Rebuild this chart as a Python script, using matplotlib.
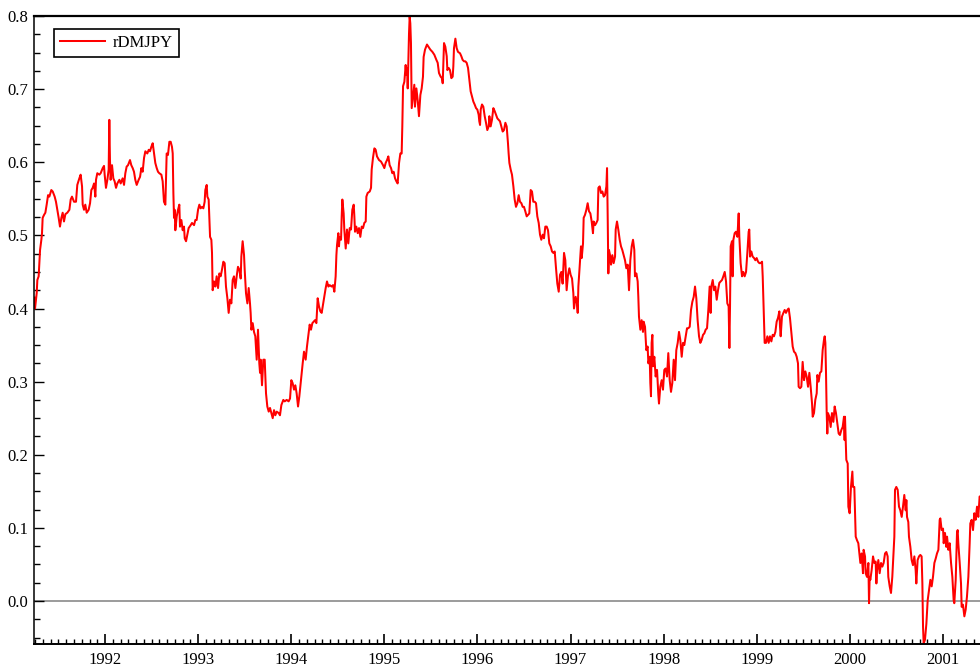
import numpy as np
import matplotlib
matplotlib.use("Agg")
import matplotlib.pyplot as plt
from matplotlib.ticker import MultipleLocator, FormatStrFormatter

plt.rcParams["font.family"] = ["Liberation Serif", "DejaVu Serif"]

# rDMJPY, (decimal year, value) pairs read in chunks
pts_1991 = [
    (1991.240, 0.415), (1991.248, 0.400), (1991.266, 0.421), (1991.273, 0.439), (1991.287, 0.444),
    (1991.295, 0.462), (1991.302, 0.480), (1991.316, 0.494), (1991.323, 0.503), (1991.330, 0.524),
    (1991.345, 0.528), (1991.359, 0.531), (1991.373, 0.542), (1991.388, 0.555), (1991.402, 0.553),
    (1991.423, 0.562), (1991.438, 0.560), (1991.459, 0.553), (1991.473, 0.546), (1991.488, 0.535),
    (1991.502, 0.524), (1991.516, 0.512), (1991.531, 0.524), (1991.545, 0.531), (1991.559, 0.519),
    (1991.574, 0.529), (1991.595, 0.531), (1991.617, 0.535), (1991.631, 0.549), (1991.645, 0.553),
    (1991.667, 0.546), (1991.688, 0.546), (1991.702, 0.569), (1991.724, 0.578), (1991.738, 0.583),
    (1991.753, 0.567), (1991.760, 0.542), (1991.774, 0.535), (1991.788, 0.542), (1991.803, 0.531),
    (1991.824, 0.535), (1991.839, 0.544), (1991.853, 0.562), (1991.867, 0.565), (1991.882, 0.571),
    (1991.896, 0.553), (1991.903, 0.576), (1991.917, 0.585), (1991.939, 0.583), (1991.953, 0.585),
    (1991.975, 0.592), (1991.989, 0.595), (1991.996, 0.583),
]
pts_1992 = [
    (1992.010, 0.565), (1992.025, 0.576), (1992.039, 0.590), (1992.046, 0.658), (1992.053, 0.603),
    (1992.060, 0.576), (1992.075, 0.596), (1992.089, 0.578), (1992.103, 0.574), (1992.118, 0.565),
    (1992.132, 0.571), (1992.154, 0.576), (1992.168, 0.571), (1992.189, 0.578), (1992.204, 0.569),
    (1992.218, 0.585), (1992.232, 0.594), (1992.247, 0.596), (1992.268, 0.603), (1992.282, 0.596),
    (1992.297, 0.592), (1992.311, 0.587), (1992.325, 0.576), (1992.340, 0.569), (1992.361, 0.576),
    (1992.376, 0.580), (1992.390, 0.592), (1992.404, 0.587), (1992.419, 0.606), (1992.433, 0.615),
    (1992.454, 0.612), (1992.469, 0.617), (1992.483, 0.615), (1992.497, 0.621), (1992.512, 0.626),
    (1992.526, 0.612), (1992.540, 0.599), (1992.555, 0.592), (1992.569, 0.587), (1992.583, 0.585),
    (1992.605, 0.583), (1992.619, 0.574), (1992.633, 0.546), (1992.648, 0.542), (1992.662, 0.612),
    (1992.676, 0.610), (1992.691, 0.628), (1992.705, 0.628), (1992.719, 0.621), (1992.727, 0.612),
    (1992.734, 0.558), (1992.741, 0.524), (1992.748, 0.535), (1992.755, 0.507), (1992.770, 0.526),
    (1992.784, 0.535), (1992.798, 0.542), (1992.805, 0.512), (1992.820, 0.521), (1992.834, 0.507),
    (1992.848, 0.512), (1992.856, 0.496), (1992.870, 0.492), (1992.884, 0.501), (1992.898, 0.510),
    (1992.920, 0.514), (1992.934, 0.517), (1992.956, 0.514), (1992.970, 0.521), (1992.984, 0.521),
    (1992.999, 0.535),
]
pts_1993 = [
    (1993.013, 0.542), (1993.027, 0.537), (1993.042, 0.539), (1993.056, 0.537), (1993.070, 0.546),
    (1993.077, 0.562), (1993.092, 0.569), (1993.099, 0.553), (1993.113, 0.549), (1993.120, 0.526),
    (1993.128, 0.498), (1993.142, 0.494), (1993.149, 0.476), (1993.156, 0.425), (1993.171, 0.437),
    (1993.185, 0.430), (1993.199, 0.444), (1993.214, 0.428), (1993.228, 0.448), (1993.242, 0.444),
    (1993.256, 0.453), (1993.271, 0.464), (1993.285, 0.462), (1993.299, 0.430), (1993.314, 0.414),
    (1993.328, 0.394), (1993.342, 0.412), (1993.357, 0.407), (1993.371, 0.439), (1993.385, 0.444),
    (1993.400, 0.428), (1993.414, 0.444), (1993.428, 0.457), (1993.443, 0.453), (1993.457, 0.441),
    (1993.464, 0.471), (1993.478, 0.492), (1993.493, 0.473), (1993.500, 0.453), (1993.514, 0.421),
    (1993.529, 0.407), (1993.543, 0.428), (1993.557, 0.407), (1993.564, 0.394), (1993.572, 0.371),
    (1993.586, 0.380), (1993.600, 0.368), (1993.614, 0.362), (1993.629, 0.330), (1993.643, 0.371),
    (1993.657, 0.325), (1993.665, 0.312), (1993.672, 0.330), (1993.686, 0.295), (1993.700, 0.330),
    (1993.715, 0.330), (1993.729, 0.284), (1993.743, 0.266), (1993.758, 0.259), (1993.772, 0.264),
    (1993.786, 0.257), (1993.801, 0.250), (1993.815, 0.261), (1993.829, 0.254), (1993.844, 0.259),
    (1993.865, 0.257), (1993.879, 0.254), (1993.894, 0.268), (1993.915, 0.275), (1993.930, 0.273),
    (1993.951, 0.275), (1993.972, 0.273), (1993.987, 0.277),
]
pts_1994 = [
    (1994.001, 0.302), (1994.015, 0.298), (1994.030, 0.289), (1994.044, 0.295), (1994.058, 0.284),
    (1994.073, 0.266), (1994.087, 0.280), (1994.101, 0.298), (1994.116, 0.316), (1994.123, 0.325),
    (1994.137, 0.341), (1994.155, 0.330), (1994.169, 0.348), (1994.184, 0.364), (1994.198, 0.378),
    (1994.212, 0.371), (1994.227, 0.380), (1994.241, 0.382), (1994.255, 0.384), (1994.270, 0.380),
    (1994.284, 0.414), (1994.298, 0.403), (1994.313, 0.396), (1994.327, 0.394), (1994.341, 0.405),
    (1994.356, 0.416), (1994.370, 0.428), (1994.384, 0.437), (1994.399, 0.430), (1994.413, 0.432),
    (1994.434, 0.430), (1994.449, 0.432), (1994.463, 0.423), (1994.477, 0.444), (1994.485, 0.473),
    (1994.492, 0.487), (1994.506, 0.503), (1994.513, 0.485), (1994.520, 0.498), (1994.535, 0.494),
    (1994.542, 0.526), (1994.549, 0.549), (1994.563, 0.530), (1994.570, 0.508), (1994.585, 0.482),
    (1994.599, 0.508), (1994.613, 0.489), (1994.628, 0.510), (1994.642, 0.508), (1994.656, 0.535),
    (1994.671, 0.542), (1994.678, 0.526), (1994.685, 0.505), (1994.699, 0.512), (1994.714, 0.503),
    (1994.728, 0.510), (1994.742, 0.498), (1994.757, 0.512), (1994.771, 0.510), (1994.785, 0.517),
    (1994.800, 0.519), (1994.807, 0.553), (1994.821, 0.558), (1994.843, 0.560), (1994.857, 0.565),
    (1994.864, 0.590), (1994.878, 0.606), (1994.893, 0.619), (1994.907, 0.617), (1994.921, 0.608),
    (1994.943, 0.603), (1994.964, 0.601), (1994.986, 0.596),
]
pts_1995 = [
    (1995.000, 0.592), (1995.014, 0.599), (1995.029, 0.603), (1995.043, 0.608), (1995.057, 0.596),
    (1995.072, 0.592), (1995.086, 0.585), (1995.100, 0.587), (1995.115, 0.578), (1995.129, 0.574),
    (1995.143, 0.571), (1995.158, 0.599), (1995.172, 0.612), (1995.186, 0.612), (1995.193, 0.649),
    (1995.201, 0.704), (1995.215, 0.710), (1995.229, 0.733), (1995.236, 0.720), (1995.244, 0.729),
    (1995.251, 0.701), (1995.265, 0.776), (1995.272, 0.799), (1995.279, 0.790), (1995.286, 0.763),
    (1995.294, 0.674), (1995.308, 0.690), (1995.322, 0.706), (1995.329, 0.676), (1995.344, 0.701),
    (1995.358, 0.685), (1995.372, 0.663), (1995.387, 0.692), (1995.401, 0.701), (1995.415, 0.717),
    (1995.422, 0.744), (1995.437, 0.754), (1995.458, 0.761), (1995.473, 0.758), (1995.494, 0.754),
    (1995.516, 0.751), (1995.537, 0.747), (1995.559, 0.740), (1995.573, 0.736), (1995.587, 0.722),
    (1995.605, 0.717), (1995.619, 0.715), (1995.627, 0.708), (1995.641, 0.763), (1995.655, 0.758),
    (1995.670, 0.745), (1995.677, 0.726), (1995.691, 0.729), (1995.705, 0.726), (1995.720, 0.715),
    (1995.734, 0.717), (1995.741, 0.731), (1995.748, 0.756), (1995.763, 0.769), (1995.777, 0.756),
    (1995.791, 0.751), (1995.813, 0.749), (1995.827, 0.745), (1995.841, 0.740), (1995.856, 0.738),
    (1995.870, 0.738), (1995.884, 0.736), (1995.899, 0.729), (1995.913, 0.713), (1995.927, 0.697),
    (1995.942, 0.690), (1995.956, 0.683), (1995.970, 0.679), (1995.985, 0.674), (1995.999, 0.672),
]
pts_1996 = [
    (1996.013, 0.665), (1996.020, 0.656), (1996.028, 0.651), (1996.035, 0.672), (1996.049, 0.679),
    (1996.063, 0.676), (1996.078, 0.663), (1996.092, 0.654), (1996.106, 0.644), (1996.121, 0.649),
    (1996.128, 0.663), (1996.142, 0.649), (1996.156, 0.658), (1996.171, 0.674), (1996.185, 0.670),
    (1996.199, 0.665), (1996.214, 0.660), (1996.228, 0.658), (1996.242, 0.656), (1996.257, 0.649),
    (1996.271, 0.642), (1996.285, 0.644), (1996.300, 0.654), (1996.314, 0.649), (1996.328, 0.626),
    (1996.335, 0.612), (1996.343, 0.599), (1996.357, 0.590), (1996.371, 0.583), (1996.386, 0.567),
    (1996.400, 0.549), (1996.414, 0.539), (1996.429, 0.544), (1996.443, 0.555), (1996.457, 0.546),
    (1996.472, 0.544), (1996.486, 0.539), (1996.500, 0.539), (1996.514, 0.533), (1996.529, 0.526),
    (1996.543, 0.528), (1996.557, 0.530), (1996.572, 0.562), (1996.586, 0.560), (1996.600, 0.546),
    (1996.615, 0.546), (1996.629, 0.544), (1996.643, 0.526), (1996.658, 0.517), (1996.672, 0.501),
    (1996.686, 0.494), (1996.701, 0.501), (1996.715, 0.496), (1996.729, 0.512), (1996.744, 0.512),
    (1996.758, 0.507), (1996.772, 0.489), (1996.787, 0.485), (1996.801, 0.478), (1996.815, 0.476),
    (1996.830, 0.478), (1996.844, 0.455), (1996.858, 0.434), (1996.873, 0.423), (1996.887, 0.446),
    (1996.901, 0.450), (1996.915, 0.434), (1996.930, 0.476), (1996.944, 0.466), (1996.958, 0.425),
    (1996.973, 0.446), (1996.987, 0.455),
]
pts_1997 = [
    (1997.001, 0.446), (1997.016, 0.441), (1997.030, 0.421), (1997.037, 0.400), (1997.055, 0.416),
    (1997.069, 0.407), (1997.077, 0.394), (1997.084, 0.430), (1997.098, 0.457), (1997.112, 0.485),
    (1997.120, 0.469), (1997.134, 0.489), (1997.141, 0.524), (1997.155, 0.528), (1997.170, 0.535),
    (1997.184, 0.544), (1997.198, 0.533), (1997.213, 0.530), (1997.227, 0.519), (1997.241, 0.503),
    (1997.248, 0.519), (1997.263, 0.514), (1997.277, 0.517), (1997.291, 0.521), (1997.299, 0.565),
    (1997.313, 0.567), (1997.327, 0.558), (1997.342, 0.560), (1997.356, 0.553), (1997.370, 0.555),
    (1997.385, 0.567), (1997.392, 0.592), (1997.399, 0.526), (1997.406, 0.448), (1997.413, 0.480),
    (1997.427, 0.471), (1997.435, 0.460), (1997.449, 0.473), (1997.463, 0.462), (1997.478, 0.471),
    (1997.485, 0.508), (1997.499, 0.519), (1997.513, 0.508), (1997.528, 0.494), (1997.542, 0.485),
    (1997.556, 0.480), (1997.571, 0.473), (1997.585, 0.466), (1997.599, 0.455), (1997.614, 0.460),
    (1997.628, 0.425), (1997.642, 0.466), (1997.657, 0.485), (1997.671, 0.494), (1997.685, 0.480),
    (1997.692, 0.444), (1997.707, 0.448), (1997.721, 0.437), (1997.728, 0.416), (1997.735, 0.389),
    (1997.750, 0.371), (1997.764, 0.384), (1997.778, 0.368), (1997.785, 0.382), (1997.800, 0.375),
    (1997.814, 0.343), (1997.828, 0.348), (1997.836, 0.325), (1997.850, 0.334), (1997.857, 0.298),
    (1997.864, 0.280), (1997.871, 0.353), (1997.879, 0.364), (1997.886, 0.321), (1997.900, 0.334),
    (1997.914, 0.307), (1997.929, 0.316), (1997.943, 0.282), (1997.950, 0.270), (1997.964, 0.293),
    (1997.979, 0.302), (1997.993, 0.289),
]
pts_1998 = [
    (1998.007, 0.316), (1998.022, 0.318), (1998.036, 0.307), (1998.050, 0.339), (1998.065, 0.302),
    (1998.079, 0.286), (1998.093, 0.298), (1998.108, 0.330), (1998.122, 0.302), (1998.136, 0.343),
    (1998.151, 0.353), (1998.165, 0.368), (1998.179, 0.357), (1998.194, 0.334), (1998.208, 0.353),
    (1998.222, 0.350), (1998.237, 0.362), (1998.251, 0.373), (1998.265, 0.373), (1998.280, 0.375),
    (1998.294, 0.398), (1998.308, 0.409), (1998.323, 0.416), (1998.337, 0.430), (1998.351, 0.414),
    (1998.365, 0.384), (1998.380, 0.362), (1998.394, 0.353), (1998.408, 0.357), (1998.423, 0.364),
    (1998.437, 0.366), (1998.451, 0.371), (1998.466, 0.373), (1998.480, 0.398), (1998.494, 0.430),
    (1998.505, 0.394), (1998.512, 0.430), (1998.527, 0.439), (1998.541, 0.425), (1998.555, 0.430),
    (1998.570, 0.412), (1998.584, 0.425), (1998.598, 0.435), (1998.613, 0.437), (1998.627, 0.439),
    (1998.641, 0.444), (1998.656, 0.450), (1998.670, 0.437), (1998.684, 0.407), (1998.698, 0.403),
    (1998.706, 0.346), (1998.713, 0.403), (1998.720, 0.485), (1998.734, 0.492), (1998.741, 0.444),
    (1998.749, 0.494), (1998.763, 0.503), (1998.777, 0.505), (1998.792, 0.498), (1998.806, 0.530),
    (1998.813, 0.498), (1998.827, 0.462), (1998.842, 0.444), (1998.856, 0.450), (1998.870, 0.444),
    (1998.885, 0.450), (1998.899, 0.476), (1998.913, 0.505), (1998.920, 0.508), (1998.928, 0.471),
    (1998.942, 0.478), (1998.956, 0.471), (1998.971, 0.469), (1998.985, 0.466), (1998.999, 0.469),
]
pts_1999 = [
    (1999.014, 0.464), (1999.028, 0.462), (1999.042, 0.462), (1999.057, 0.464), (1999.064, 0.444),
    (1999.071, 0.412), (1999.078, 0.375), (1999.085, 0.353), (1999.099, 0.353), (1999.114, 0.362),
    (1999.128, 0.353), (1999.142, 0.362), (1999.157, 0.355), (1999.171, 0.364), (1999.185, 0.362),
    (1999.200, 0.368), (1999.214, 0.382), (1999.228, 0.387), (1999.243, 0.396), (1999.250, 0.375),
    (1999.257, 0.362), (1999.271, 0.389), (1999.286, 0.394), (1999.300, 0.398), (1999.314, 0.394),
    (1999.329, 0.398), (1999.343, 0.400), (1999.357, 0.387), (1999.372, 0.366), (1999.386, 0.348),
    (1999.400, 0.341), (1999.415, 0.339), (1999.429, 0.334), (1999.443, 0.325), (1999.450, 0.293),
    (1999.465, 0.291), (1999.479, 0.293), (1999.493, 0.327), (1999.508, 0.302), (1999.522, 0.314),
    (1999.536, 0.307), (1999.551, 0.293), (1999.565, 0.312), (1999.579, 0.293), (1999.594, 0.270),
    (1999.601, 0.252), (1999.615, 0.257), (1999.629, 0.275), (1999.644, 0.284), (1999.651, 0.309),
    (1999.665, 0.300), (1999.679, 0.312), (1999.694, 0.314), (1999.708, 0.343), (1999.722, 0.357),
    (1999.730, 0.362), (1999.737, 0.353), (1999.744, 0.312), (1999.751, 0.259), (1999.758, 0.229),
    (1999.765, 0.257), (1999.780, 0.252), (1999.794, 0.238), (1999.808, 0.257), (1999.823, 0.245),
    (1999.837, 0.266), (1999.851, 0.257), (1999.866, 0.243), (1999.880, 0.229), (1999.894, 0.227),
    (1999.909, 0.234), (1999.923, 0.238), (1999.937, 0.252), (1999.944, 0.220), (1999.948, 0.252),
    (1999.962, 0.193), (1999.977, 0.188), (1999.984, 0.129), (1999.998, 0.120),
]
pts_2000 = [
    (2000.012, 0.156), (2000.027, 0.177), (2000.034, 0.156), (2000.048, 0.156), (2000.063, 0.088),
    (2000.077, 0.083), (2000.091, 0.079), (2000.106, 0.061), (2000.113, 0.052), (2000.127, 0.065),
    (2000.141, 0.038), (2000.148, 0.070), (2000.163, 0.061), (2000.170, 0.038), (2000.184, 0.033),
    (2000.199, 0.052), (2000.206, -0.003), (2000.213, 0.033), (2000.220, 0.029), (2000.234, 0.042),
    (2000.249, 0.061), (2000.263, 0.052), (2000.277, 0.054), (2000.285, 0.024), (2000.292, 0.042),
    (2000.306, 0.056), (2000.320, 0.038), (2000.335, 0.052), (2000.349, 0.047), (2000.363, 0.052),
    (2000.378, 0.065), (2000.392, 0.067), (2000.406, 0.061), (2000.413, 0.033), (2000.428, 0.020),
    (2000.442, 0.011), (2000.456, 0.033), (2000.471, 0.070), (2000.478, 0.088), (2000.485, 0.152),
    (2000.499, 0.156), (2000.514, 0.152), (2000.528, 0.129), (2000.542, 0.124), (2000.557, 0.115),
    (2000.571, 0.129), (2000.585, 0.145), (2000.600, 0.124), (2000.607, 0.138), (2000.614, 0.115),
    (2000.628, 0.108), (2000.635, 0.088), (2000.650, 0.074), (2000.664, 0.056), (2000.678, 0.049),
    (2000.693, 0.061), (2000.707, 0.042), (2000.714, 0.024), (2000.728, 0.056), (2000.743, 0.061),
    (2000.757, 0.063), (2000.771, 0.061), (2000.779, 0.024), (2000.786, -0.035), (2000.793, -0.058),
    (2000.807, -0.053), (2000.822, -0.031), (2000.836, 0.001), (2000.850, 0.015), (2000.865, 0.029),
    (2000.879, 0.020), (2000.893, 0.033), (2000.908, 0.052), (2000.922, 0.058), (2000.936, 0.065),
    (2000.951, 0.070), (2000.965, 0.111), (2000.972, 0.113), (2000.986, 0.097),
]
pts_2001 = [
    (2001.001, 0.099), (2001.008, 0.079), (2001.022, 0.093), (2001.036, 0.074), (2001.044, 0.088),
    (2001.058, 0.070), (2001.072, 0.079), (2001.087, 0.052), (2001.101, 0.033), (2001.115, 0.001),
    (2001.122, -0.003), (2001.137, 0.029), (2001.151, 0.093), (2001.158, 0.097), (2001.165, 0.079),
    (2001.180, 0.052), (2001.194, 0.024), (2001.201, -0.008), (2001.215, -0.005), (2001.230, -0.021),
    (2001.244, -0.012), (2001.258, 0.006), (2001.273, 0.033), (2001.287, 0.079), (2001.294, 0.106),
    (2001.308, 0.111), (2001.323, 0.097), (2001.337, 0.120), (2001.351, 0.111), (2001.366, 0.129),
    (2001.380, 0.115), (2001.394, 0.143), (2001.410, 0.140),
]

years = list(range(1992, 2002))
yticks = [0.0, 0.1, 0.2, 0.3, 0.4, 0.5, 0.6, 0.7, 0.8]

series = np.array(pts_1991 + pts_1992 + pts_1993 + pts_1994 + pts_1995 +
                  pts_1996 + pts_1997 + pts_1998 + pts_1999 + pts_2000 + pts_2001)
t, v = series[:, 0], series[:, 1]

fig = plt.figure(figsize=(9.8, 6.69), dpi=100)
ax = fig.add_axes([34 / 980, 25 / 669, 946 / 980, 628 / 669])

ax.axhline(0.0, color="#808080", lw=1.1, zorder=1)
ax.plot(t, v, color="#ff0000", lw=1.45, label="rDMJPY", zorder=2)

ax.set_xlim(1991.237, 2001.398)
ax.set_ylim(-0.0588, 0.8)

ax.set_xticks(years)
ax.set_xticklabels([str(y) for y in years])
ax.xaxis.set_minor_locator(MultipleLocator(1 / 12))
ax.set_yticks(yticks)
ax.yaxis.set_major_formatter(FormatStrFormatter("%.1f"))
ax.yaxis.set_minor_locator(MultipleLocator(0.025))

ax.tick_params(which="both", direction="in", color="black", labelsize=12)
ax.tick_params(axis="x", which="major", length=7, width=1.2, pad=6)
ax.tick_params(axis="x", which="minor", length=3.5, width=1.0)
ax.tick_params(axis="y", which="major", length=7, width=1.0, pad=4)
ax.tick_params(axis="y", which="minor", length=4, width=1.0)

ax.spines["right"].set_visible(False)
ax.spines["top"].set_linewidth(1.6)
ax.spines["left"].set_linewidth(1.1)
ax.spines["bottom"].set_linewidth(1.4)

leg = ax.legend(loc="upper left", bbox_to_anchor=(0.021, 0.979), borderaxespad=0,
                fontsize=12, frameon=True, fancybox=False, framealpha=1,
                handlelength=2.7, handletextpad=0.5, borderpad=0.35)
leg.get_frame().set_edgecolor("black")
leg.get_frame().set_linewidth(1.2)

fig.savefig("out.png", dpi=100)
